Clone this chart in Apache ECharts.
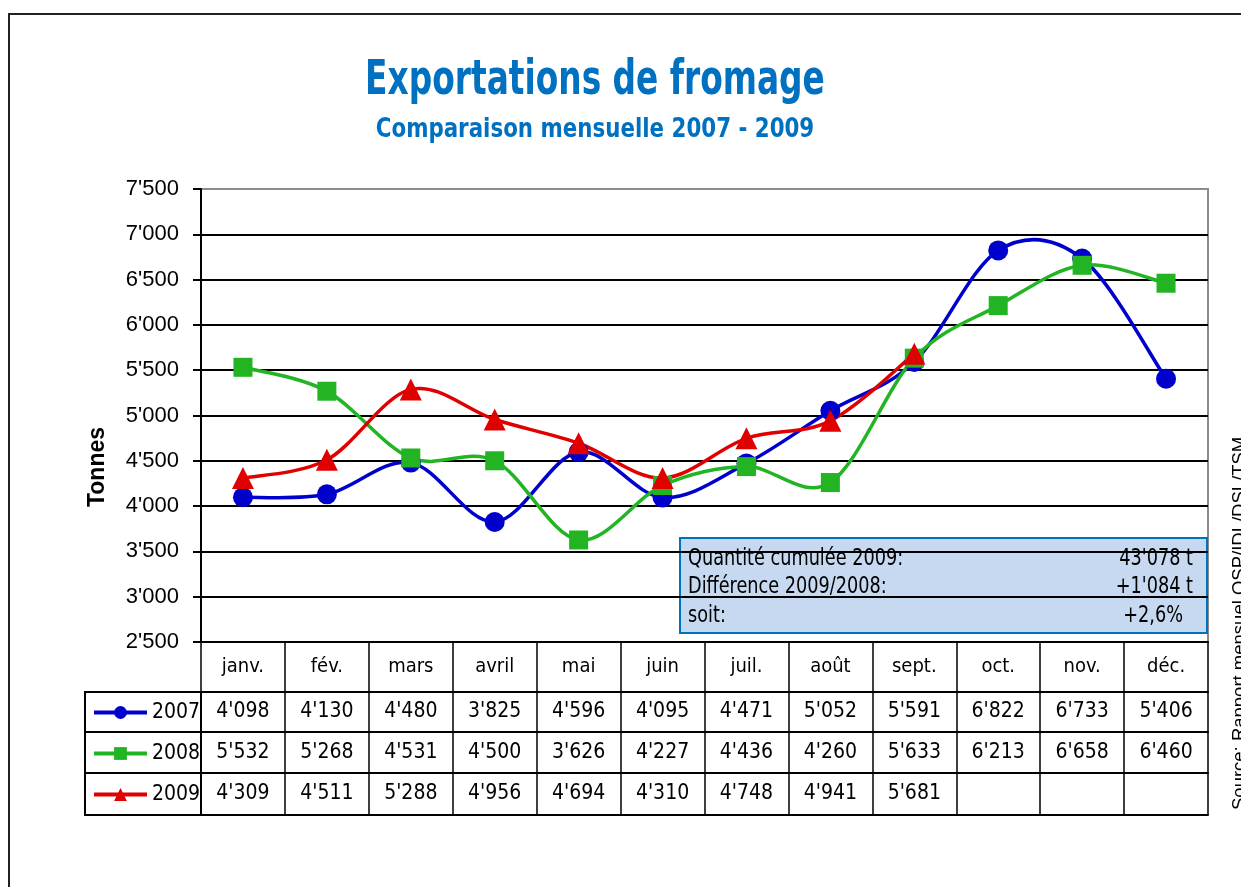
<!DOCTYPE html>
<html>
<head>
<meta charset="utf-8">
<script src="https://cdn.jsdelivr.net/npm/echarts@6/dist/echarts.min.js"></script>
<style>
  html, body { margin: 0; padding: 0; background: #fff; }
  #chart { width: 1241px; height: 887px; }
</style>
</head>
<body>
<div id="chart"></div>
<script>
// mois et exportations (tonnes)
const months = ['janv.', 'fév.', 'mars', 'avril', 'mai', 'juin', 'juil.', 'août', 'sept.', 'oct.', 'nov.', 'déc.']
const exp2007 = [4098, 4130, 4480, 3825, 4596, 4095, 4471, 5052, 5591, 6822, 6733, 5406]
const exp2008 = [5532, 5268, 4531, 4500, 3626, 4227, 4436, 4260, 5633, 6213, 6658, 6460]
const exp2009 = [4309, 4511, 5288, 4956, 4694, 4310, 4748, 4941, 5681]
const years = ['2007', '2008', '2009']
const yMin = 2500
const yMax = 7500
const yStep = 500
const infoLabels = ['Quantité cumulée 2009:', 'Différence 2009/2008:', 'soit:']
const infoValues = ["43'078 t", "+1'084 t", '+2,6%']
const sourceText = 'Source: Rapport mensuel OSP/IDL/DSL/TSM'

const narrow = "'Liberation Sans Narrow', 'Arial Narrow', 'DejaVu Sans Condensed', sans-serif"
const arial = "'Liberation Sans', Arial, sans-serif"

let fmt = (n) => (n === undefined || n === null) ? '' : String(n).replace(/\B(?=(\d{3})+(?!\d))/g, "'")

let chart = echarts.init(document.getElementById('chart'))

// lignes du tableau sous le graphique
let tableAxis = (offset, rowH, values, size) => ({
  type: 'category',
  gridIndex: 0,
  position: 'bottom',
  offset: offset,
  data: months,
  axisLine: { show: true, lineStyle: { color: '#000', width: 2 } },
  axisTick: { show: rowH > 0, interval: 0, length: rowH, lineStyle: { color: '#000', width: 1.5 } },
  axisLabel: {
    show: values !== null,
    interval: 0,
    margin: rowH / 2,
    verticalAlign: 'middle',
    fontFamily: narrow,
    fontSize: size,
    color: '#000',
    formatter: (v, i) => values ? (values === months ? v : fmt(values[i])) : ''
  },
  splitLine: { show: false }
})

// courbe lissée façon Excel (Bezier, tangente = (p[i+1]-p[i-1])/6)
let smoothCurve = (name, data, color) => ({
  name: name + ' courbe',
  type: 'custom',
  coordinateSystem: 'cartesian2d',
  xAxisIndex: 0,
  yAxisIndex: 0,
  z: 2,
  silent: true,
  encode: { x: 0, y: 1 },
  data: data.map((v, i) => [i, v]),
  renderItem: (params, api) => {
    let i = params.dataIndex
    if (i >= data.length - 1) return null
    let pt = (k) => {
      let j = Math.max(0, Math.min(data.length - 1, k))
      return api.coord([j, data[j]])
    }
    let p0 = pt(i - 1)
    let p1 = pt(i)
    let p2 = pt(i + 1)
    let p3 = pt(i + 2)
    return {
      type: 'bezierCurve',
      shape: {
        x1: p1[0], y1: p1[1],
        cpx1: p1[0] + (p2[0] - p0[0]) / 6, cpy1: p1[1] + (p2[1] - p0[1]) / 6,
        cpx2: p2[0] - (p3[0] - p1[0]) / 6, cpy2: p2[1] - (p3[1] - p1[1]) / 6,
        x2: p2[0], y2: p2[1]
      },
      style: { stroke: color, lineWidth: 3.5, fill: null }
    }
  }
})

let markers = (name, data, color, symbol, size) => ({
  name: name,
  type: 'line',
  xAxisIndex: 0,
  z: 3,
  symbol: symbol,
  symbolSize: size,
  showAllSymbol: true,
  lineStyle: { color: color, width: 3.5, opacity: 0 },
  itemStyle: { color: color },
  data: data
})

let option = {
  animation: false,
  backgroundColor: '#fff',
  grid: {
    left: 201, right: 33, top: 189, height: 453,
    show: true, borderColor: '#8c8c8c', borderWidth: 2, backgroundColor: 'transparent'
  },
  legend: {
    orient: 'vertical',
    left: 92,
    top: 702,
    padding: 0,
    itemWidth: 53,
    itemHeight: 16,
    itemGap: 20,
    lineStyle: { width: 4, opacity: 1 },
    textStyle: { fontFamily: narrow, fontSize: 21, color: '#000' },
    data: years
  },
  xAxis: [
    tableAxis(0, 50, months, 20),
    tableAxis(50, 40, exp2007, 21),
    tableAxis(90, 41, exp2008, 21),
    tableAxis(131, 42, exp2009, 21),
    tableAxis(173, 0, null, 12)
  ],
  yAxis: {
    type: 'value',
    min: yMin,
    max: yMax,
    interval: yStep,
    axisLine: { show: true, lineStyle: { color: '#000', width: 2 } },
    axisTick: { show: true, length: 8, lineStyle: { color: '#000', width: 2 } },
    axisLabel: { margin: 22, fontFamily: arial, fontSize: 22, color: '#000', formatter: (v) => fmt(v) },
    splitLine: {
      show: true,
      lineStyle: { width: 2, color: ['#000', '#000', '#000', '#000', '#000', '#000', '#000', '#000', '#000', '#000', '#8c8c8c'] }
    }
  },
  series: [
    smoothCurve('2007', exp2007, '#0000cc'),
    smoothCurve('2008', exp2008, '#22b422'),
    smoothCurve('2009', exp2009, '#e00000'),
    markers('2007', exp2007, '#0000cc', 'circle', 20),
    markers('2008', exp2008, '#22b422', 'rect', 19),
    markers('2009', exp2009, '#e00000', 'triangle', 22)
  ],
  graphic: [
    // cadre extérieur
    { type: 'rect', shape: { x: 9, y: 14, width: 1400, height: 1000 }, style: { fill: 'none', stroke: '#222', lineWidth: 2 }, z: -10 },
    // titre
    { type: 'text', x: 595, y: 82, scaleX: 0.76, style: { text: 'Exportations de fromage', fontFamily: narrow, fontWeight: 'bold', fontSize: 48, fill: '#0070c0', align: 'center', verticalAlign: 'middle' } },
    { type: 'text', x: 595, y: 130, scaleX: 0.88, style: { text: 'Comparaison mensuelle 2007 - 2009', fontFamily: narrow, fontWeight: 'bold', fontSize: 27, fill: '#0070c0', align: 'center', verticalAlign: 'middle' } },
    // titre de l'axe
    { type: 'text', x: 98, y: 467, rotation: Math.PI / 2, style: { text: 'Tonnes', fontFamily: arial, fontWeight: 'bold', fontSize: 23, fill: '#000', align: 'center', verticalAlign: 'middle' } },
    // colonne de légende
    { type: 'rect', shape: { x: 85, y: 692, width: 116, height: 123 }, style: { fill: 'none', stroke: '#000', lineWidth: 2 }, z: 5 },
    { type: 'line', shape: { x1: 85, y1: 732, x2: 201, y2: 732 }, style: { stroke: '#000', lineWidth: 2 }, z: 5 },
    { type: 'line', shape: { x1: 85, y1: 773, x2: 201, y2: 773 }, style: { stroke: '#000', lineWidth: 2 }, z: 5 },
    // encadré
    {
      type: 'group', z: 100,
      children: [
        { type: 'rect', shape: { x: 680, y: 538, width: 527, height: 95 }, style: { fill: '#c6d9f0', stroke: '#0070c0', lineWidth: 2 } },
        ...infoLabels.map((t, i) => ({ type: 'text', x: 688, y: 559 + i * 28.5, scaleX: 0.855, style: { text: t, fontFamily: narrow, fontSize: 23, fill: '#000', verticalAlign: 'middle' } })),
        ...infoValues.map((t, i) => ({ type: 'text', x: i === 2 ? 1183 : 1193, y: 559 + i * 28.5, scaleX: 0.855, style: { text: t, fontFamily: narrow, fontSize: 23, fill: '#000', align: 'right', verticalAlign: 'middle' } }))
      ]
    },
    // source
    { type: 'text', x: 1240, y: 810, rotation: Math.PI / 2, style: { text: sourceText, fontFamily: arial, fontSize: 18.5, fill: '#000', verticalAlign: 'middle' } }
  ]
}

chart.setOption(option)
</script>
</body>
</html>
